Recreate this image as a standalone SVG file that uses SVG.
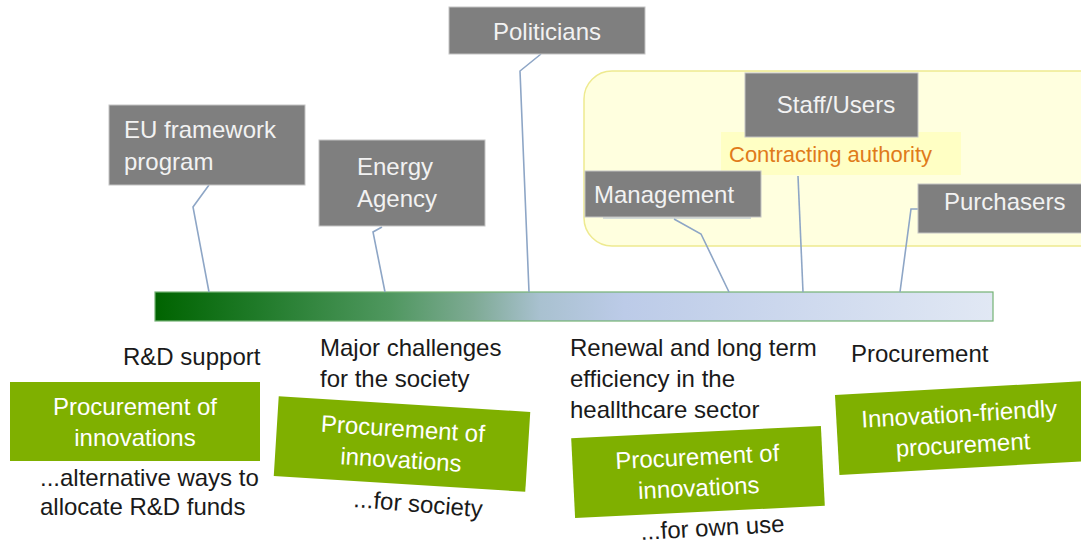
<svg xmlns="http://www.w3.org/2000/svg" width="1081" height="544" viewBox="0 0 1081 544">
  <defs>
    <linearGradient id="barGrad" x1="0" y1="0" x2="1" y2="0">
      <stop offset="0" stop-color="#006400"/>
      <stop offset="0.12" stop-color="#1f7a28"/>
      <stop offset="0.28" stop-color="#4f975f"/>
      <stop offset="0.38" stop-color="#7eaa94"/>
      <stop offset="0.46" stop-color="#a9c1d0"/>
      <stop offset="0.56" stop-color="#bccbe8"/>
      <stop offset="1" stop-color="#e1e8f4"/>
    </linearGradient>
    <style>
      .actor { fill: #7f7f7f; stroke: #c4c4c4; stroke-width: 1; }
      .actor-text { font-family: "Liberation Sans", Arial, sans-serif; font-size: 24px; fill: #f2f2f2; }
      .note { font-family: "Liberation Sans", Arial, sans-serif; font-size: 24px; fill: #1a1a1a; }
      .tag { fill: #7fb000; }
      .tag-text { font-family: "Liberation Sans", Arial, sans-serif; font-size: 24px; fill: #ffffff; text-anchor: middle; }
      .link { fill: none; stroke: #8ea6c6; stroke-width: 1.6; }
    </style>
  </defs>

  <rect width="1081" height="544" fill="#ffffff"/>

  <!-- contracting authority zone -->
  <g id="authority-zone">
    <rect x="584" y="71" width="530" height="175" rx="28" ry="28" fill="#ffffdf" stroke="#eeea90" stroke-width="1.5"/>
    <rect x="721" y="132" width="240" height="43" fill="#ffffc4"/>
    <text x="729" y="162" font-family="'Liberation Sans', Arial, sans-serif" font-size="22" fill="#e07b1a">Contracting authority</text>
  </g>

  <!-- timeline bar -->
  <g id="timeline">
    <rect x="155" y="292" width="838" height="29" fill="url(#barGrad)" stroke="#74b274" stroke-width="1.2"/>
  </g>

  <!-- leader lines from actors to the timeline -->
  <g id="connectors">
    <polyline class="link" points="209,185 193,207 209,292"/>
    <polyline class="link" points="382,227 373,232 385,292"/>
    <polyline class="link" points="541,54 520,71 529,292"/>
    <polyline class="link" points="674,219 701,234 729,292"/>
    <polyline class="link" points="798,176 803,292"/>
    <polyline class="link" points="918,209 911,209 900,292"/>
  </g>

  <g id="eu-framework">
    <rect class="actor" x="109" y="105" width="196" height="80"/>
    <text class="actor-text" x="124" y="138">EU framework</text>
    <text class="actor-text" x="124" y="170">program</text>
  </g>

  <g id="energy-agency">
    <rect class="actor" x="319" y="140" width="166" height="86"/>
    <text class="actor-text" x="357" y="175">Energy</text>
    <text class="actor-text" x="357" y="207">Agency</text>
  </g>

  <g id="politicians">
    <rect class="actor" x="449" y="7" width="196" height="47"/>
    <text class="actor-text" x="547" y="40" text-anchor="middle">Politicians</text>
  </g>

  <g id="staff-users">
    <rect class="actor" x="745" y="73" width="173" height="64"/>
    <text class="actor-text" x="836" y="113" text-anchor="middle">Staff/Users</text>
  </g>

  <g id="management">
    <line x1="603" y1="218" x2="751" y2="218" stroke="#a9b9d2" stroke-width="1"/>
    <rect class="actor" x="585" y="171" width="176" height="46"/>
    <text class="actor-text" x="594" y="203">Management</text>
  </g>

  <g id="purchasers">
    <rect class="actor" x="918" y="184" width="175" height="49"/>
    <text class="actor-text" x="944" y="210">Purchasers</text>
  </g>

  <!-- stage 1 -->
  <g id="rd-support">
    <text class="note" x="123" y="365">R&amp;D support</text>
    <rect class="tag" x="10" y="382" width="250" height="79"/>
    <text class="tag-text" x="135" y="415">Procurement of</text>
    <text class="tag-text" x="135" y="446">innovations</text>
    <text class="note" x="40" y="486">...alternative ways to</text>
    <text class="note" x="40" y="515">allocate R&amp;D funds</text>
  </g>

  <!-- stage 2 -->
  <g id="major-challenges">
    <text class="note" x="320" y="356">Major challenges</text>
    <text class="note" x="320" y="387">for the society</text>
    <g transform="rotate(3.6 402 444)">
      <rect class="tag" x="276" y="404" width="252" height="80"/>
      <text class="tag-text" x="402" y="437">Procurement of</text>
      <text class="tag-text" x="402" y="468">innovations</text>
    </g>
    <text class="note" x="353" y="507" transform="rotate(4.5 353 507)">...for society</text>
  </g>

  <!-- stage 3 -->
  <g id="renewal">
    <text class="note" x="570" y="356">Renewal and long term</text>
    <text class="note" x="570" y="387">efficiency in the</text>
    <text class="note" x="570" y="418">heallthcare sector</text>
    <g transform="rotate(-2.8 698 472)">
      <rect class="tag" x="573" y="432" width="250" height="80"/>
      <text class="tag-text" x="698" y="465">Procurement of</text>
      <text class="tag-text" x="698" y="496">innovations</text>
    </g>
    <text class="note" x="641" y="540" transform="rotate(-3.3 641 540)">...for own use</text>
  </g>

  <!-- stage 4 -->
  <g id="procurement">
    <text class="note" x="851" y="362">Procurement</text>
    <g transform="rotate(-3.2 962 428)">
      <rect class="tag" x="837" y="388" width="252" height="80"/>
      <text class="tag-text" x="960" y="422">Innovation-friendly</text>
      <text class="tag-text" x="962" y="453">procurement</text>
    </g>
  </g>
</svg>
